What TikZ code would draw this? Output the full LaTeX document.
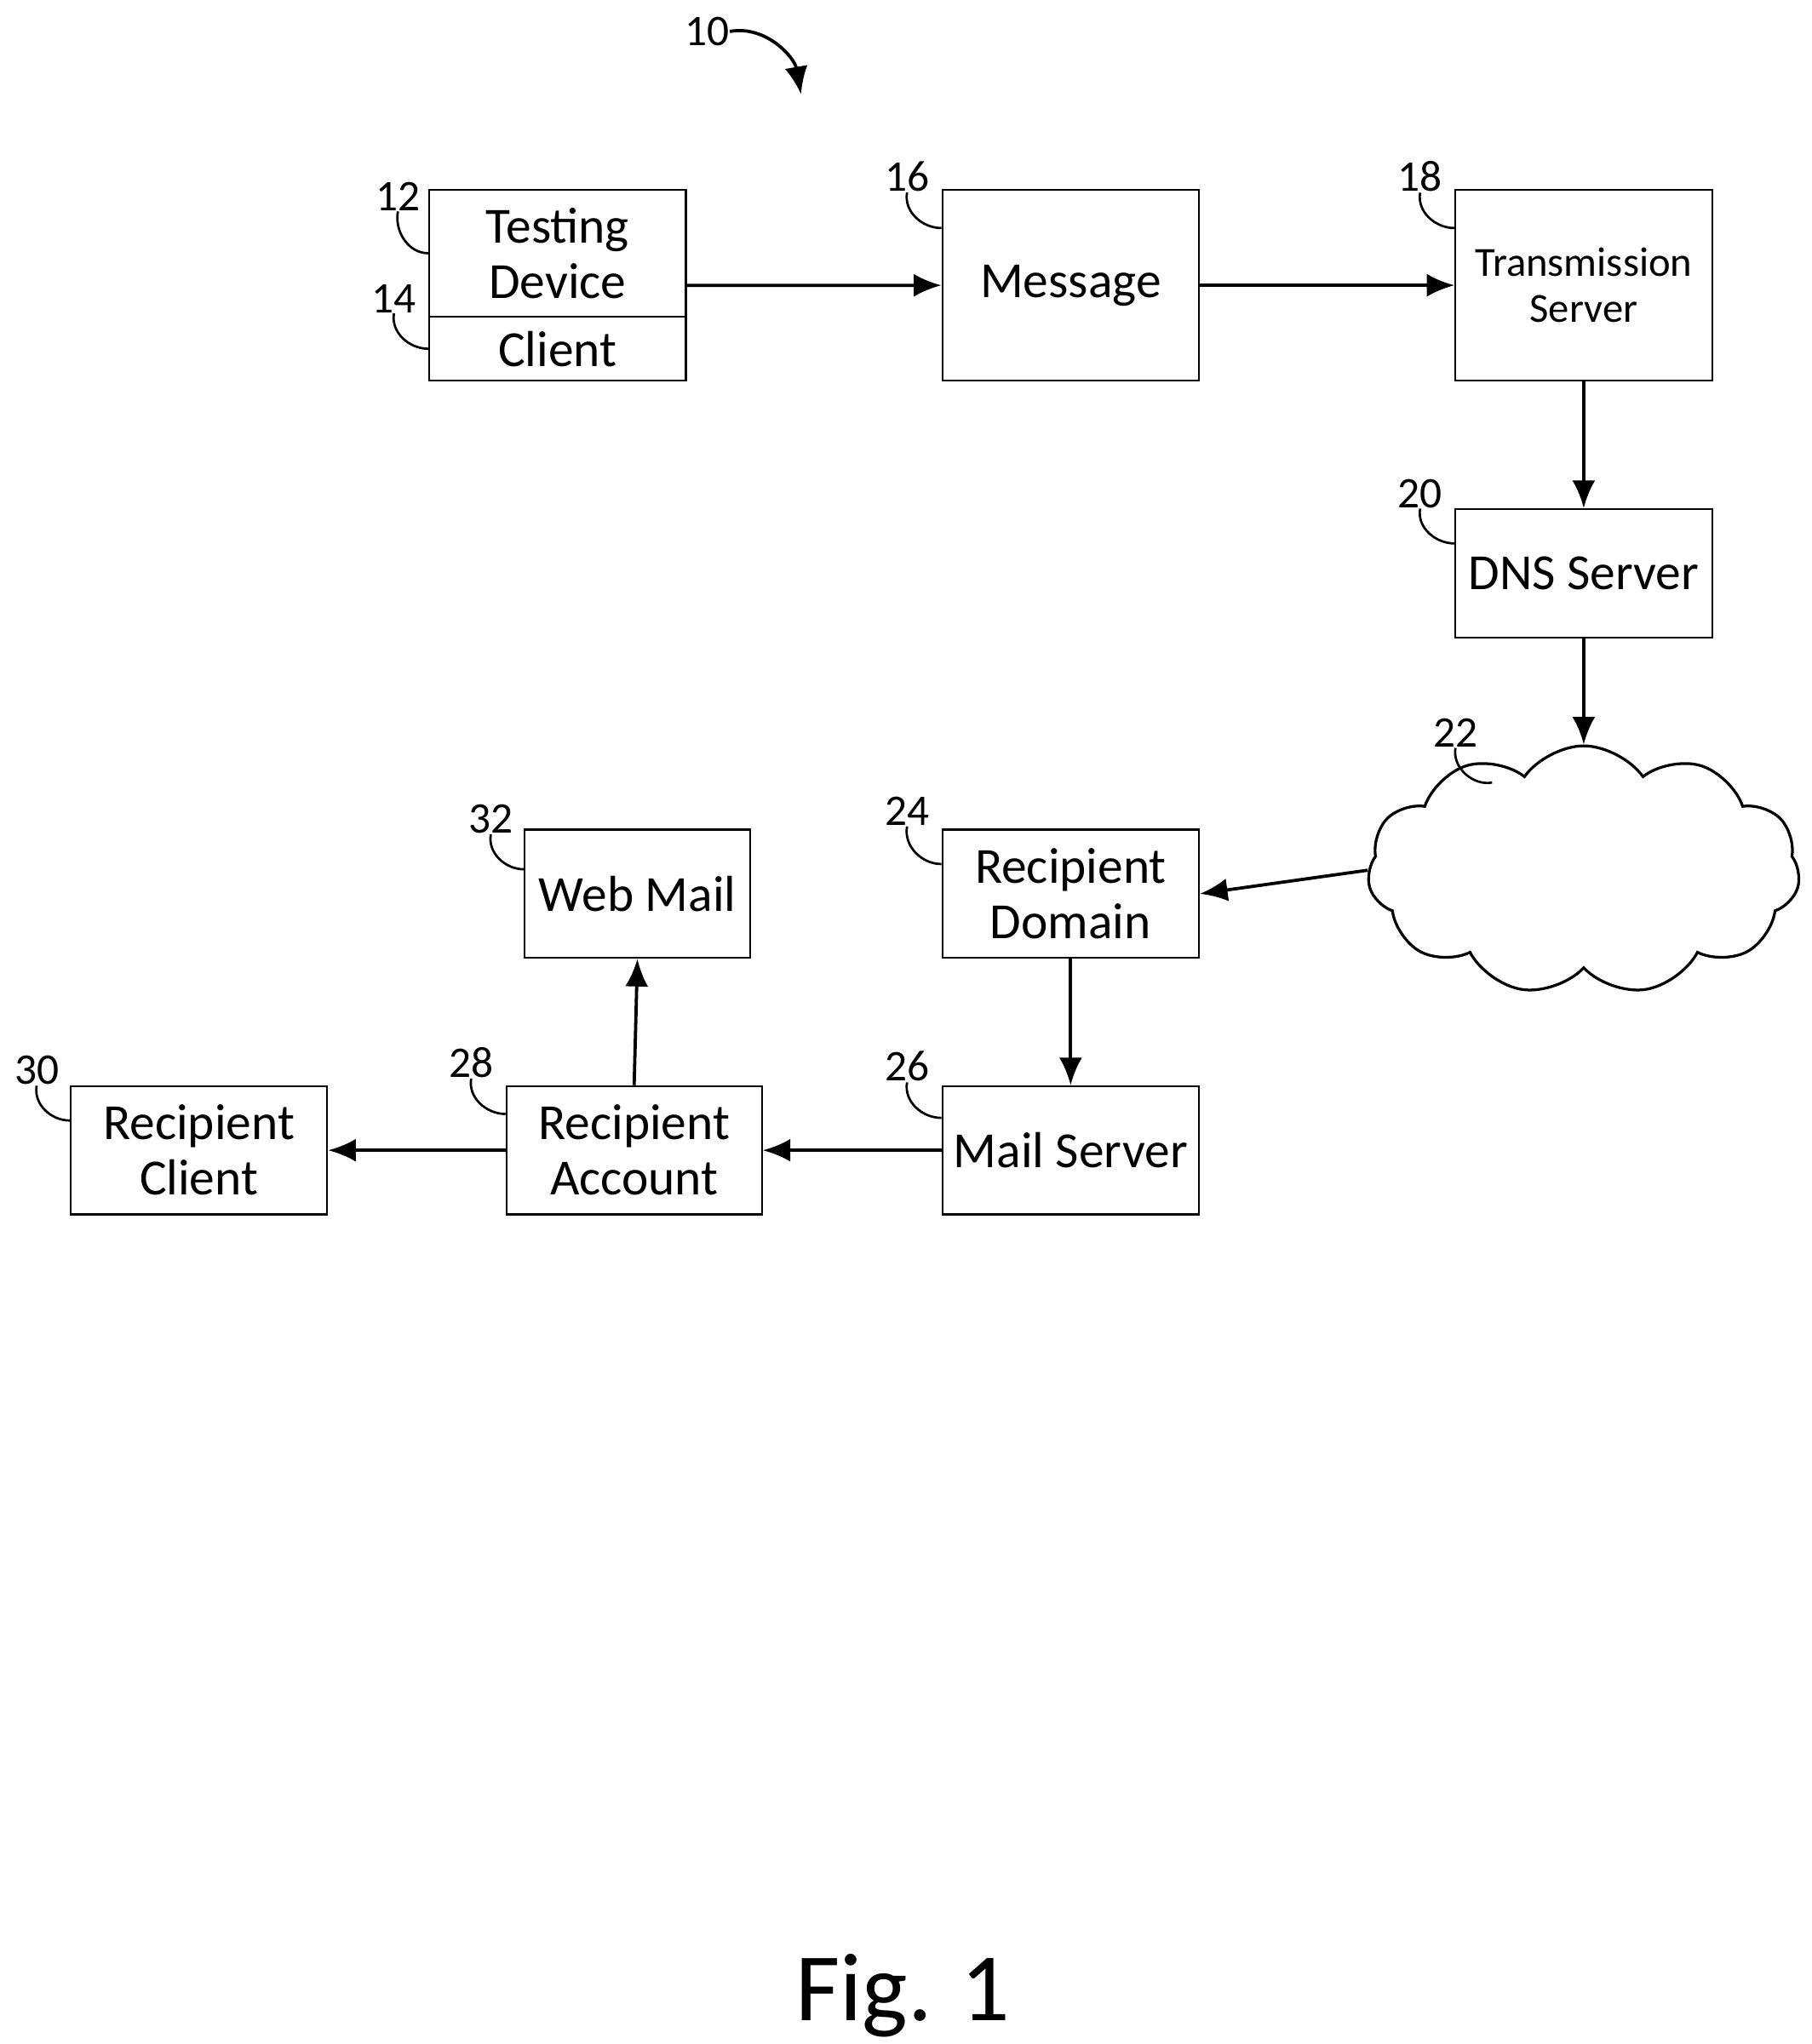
\documentclass[tikz,border=0pt]{standalone}
\usepackage{fontspec}
\setmainfont{Carlito}
\usetikzlibrary{arrows.meta,shapes.symbols,calc}
\begin{document}
\begin{tikzpicture}[x=0.01cm,y=-0.01cm,
    box/.style={draw, line width=0.4pt, minimum width=1.96cm, minimum height=0.98cm, align=center, font=\fontsize{11}{12}\selectfont, inner sep=0pt},
    num/.style={font=\fontsize{9.5}{10}\selectfont, inner sep=0pt},
    lead/.style={line width=0.5pt},
    flow/.style={line width=0.7pt, -{Latex[length=6pt,width=5pt]}}]
\useasboundingbox (0,0) rectangle (1384,1562);
% boxes
\node[box, minimum height=0.97cm] (td) at (426,193.5) {Testing\\Device};
\node[box, minimum height=0.49cm] (cl) at (426,266.5) {Client};
\node[box, minimum height=1.46cm] (msg) at (818,218) {Message};
\node[box, minimum height=1.46cm, font=\fontsize{9}{10}\selectfont] (ts) at (1210,218) {Transmission\\Server};
\node[box] (dns) at (1210,438) {DNS Server};
\node[draw, cloud, cloud puffs=11, cloud puff arc=110, aspect=1.7, line width=0.6pt, minimum width=3.3cm, minimum height=1.9cm] (net) at (1210,665) {};
\node[box] (rd) at (818,683) {Recipient\\Domain};
\node[box, minimum width=1.72cm] (wm) at (487,683) {Web Mail};
\node[box] (ms) at (818,879) {Mail Server};
\node[box, minimum width=1.95cm] (ra) at (484.5,879) {Recipient\\Account};
\node[box] (rc) at (152,879) {Recipient\\Client};
% flow
\draw[flow] ($(td.east)!0.5!(td.south east)$) -- (msg.west);
\draw[flow] (msg) -- (ts);
\draw[flow] (ts) -- (dns);
\draw[flow] (dns) -- (net.north);
\draw[flow] (net.west) -- (rd.east);
\draw[flow] (rd) -- (ms);
\draw[flow] (ms) -- (ra);
\draw[flow] (ra) -- (rc);
\draw[flow] (ra.north) -- (wm.south);
% reference numbers
\node[num] (n10) at (540,24) {10};
\draw[line width=0.7pt, -{Latex[length=6pt,width=5pt]}] (n10.east) to[out=10,in=100] (612,72);
\node[num] (n12) at (304,150) {12};
\draw[lead] (n12.south) to[out=-100,in=180] (td.west);
\node[num] (n14) at (301,228) {14};
\draw[lead] (n14.south) to[out=-100,in=180] (cl.west);
\node[num] (n16) at (693,135) {16};
\draw[lead] (n16.south) to[out=-100,in=180] ($(msg.north west)+(0,30)$);
\node[num] (n18) at (1085,135) {18};
\draw[lead] (n18.south) to[out=-100,in=180] ($(ts.north west)+(0,30)$);
\node[num] (n20) at (1085,377) {20};
\draw[lead] (n20.south) to[out=-100,in=180] ($(dns.north west)+(0,27)$);
\node[num] (n22) at (1112,560) {22};
\draw[lead] (n22.south) to[out=-100,in=190] (1140,598);
\node[num] (n24) at (693,620) {24};
\draw[lead] (n24.south) to[out=-100,in=180] ($(rd.north west)+(0,27)$);
\node[num] (n32) at (375,626) {32};
\draw[lead] (n32.south) to[out=-100,in=180] ($(wm.north west)+(0,31)$);
\node[num] (n26) at (693,815) {26};
\draw[lead] (n26.south) to[out=-100,in=180] ($(ms.north west)+(0,25)$);
\node[num] (n28) at (360,812) {28};
\draw[lead] (n28.south) to[out=-100,in=180] ($(ra.north west)+(0,22)$);
\node[num] (n30) at (28,818) {30};
\draw[lead] (n30.south) to[out=-100,in=180] ($(rc.north west)+(0,27)$);
% caption
\node[font=\fontsize{21}{24}\selectfont] (fig) at (690,1525) {Fig. 1};
\end{tikzpicture}
\end{document}
